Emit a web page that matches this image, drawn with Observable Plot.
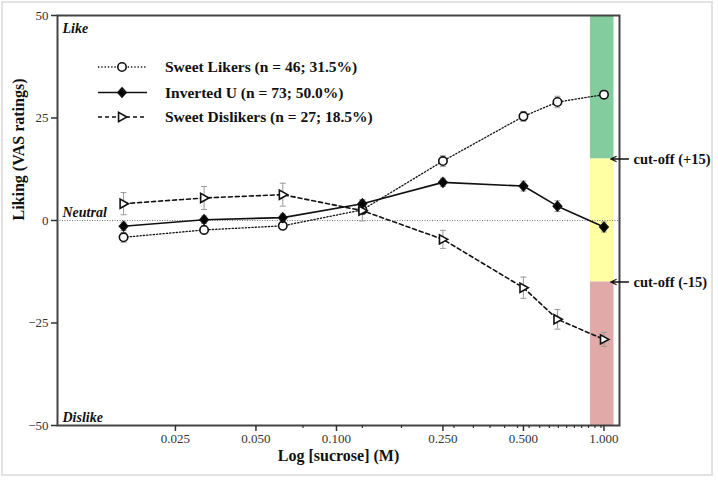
<!DOCTYPE html>
<html><head><meta charset="utf-8">
<script src="https://cdn.jsdelivr.net/npm/d3@7"></script>
<script src="https://cdn.jsdelivr.net/npm/@observablehq/plot@0.6"></script>
<style>
body{margin:0;background:#fff;}
#wrap{position:relative;width:718px;height:483px;overflow:hidden;background:#fff;}
#border{position:absolute;left:1px;top:1px;width:712px;height:475px;border:2px solid #e3e3e3;box-sizing:border-box;}
#chart{position:absolute;left:0;top:0;}
</style></head>
<body><div id="wrap"><div id="border"></div><div id="chart"></div></div>
<script>
// ---- data ----
const concentrations = [0.016, 0.032, 0.063, 0.125, 0.25, 0.5, 0.67, 1.0];
const likersMean     = [-4.1, -2.3, -1.3, 2.6, 14.5, 25.4, 28.9, 30.7];
const likersSem      = [1.2, 1.0, 1.0, 1.1, 1.3, 1.2, 1.4, 1.0];
const invertedMean   = [-1.4, 0.2, 0.7, 4.1, 9.3, 8.4, 3.5, -1.6];
const invertedSem    = [1.0, 0.9, 0.9, 1.0, 1.0, 1.2, 1.3, 1.2];
const dislikersMean  = [4.1, 5.5, 6.3, 2.4, -4.6, -16.4, -24.1, -29.0];
const dislikersSem   = [2.7, 2.8, 2.8, 2.5, 2.2, 2.6, 2.4, 1.7];
const seriesNames    = ["Sweet Likers (n = 46; 31.5%)", "Inverted U (n = 73; 50.0%)", "Sweet Dislikers (n = 27; 18.5%)"];
const xTicks         = [0.025, 0.05, 0.1, 0.25, 0.5, 1.0];
const xMinorTicks    = [0.075, 0.125, 0.175, 0.275, 0.325, 0.375, 0.425, 0.475, 0.525, 0.575, 0.625, 0.675, 0.725, 0.775, 0.825, 0.875, 0.925, 0.975];
const yTicks         = [-50, -25, 0, 25, 50];
const bandLower      = [15, -15, -50];
const bandUpper      = [50, 15, -15];
const bandRange      = [0.89, 1.09];
const cutoffs        = [15, -15];
const cutoffLabels   = ["cut-off (+15)", "cut-off (-15)"];
const zoneLabels     = ["Like", "Neutral", "Dislike"];
const zoneValues     = [50, 0, -50];

// ---- styles ----
const bandColors = ["#82cc9d", "#ffffa3", "#e2a9a9"];
const font = "'Liberation Serif', 'Times New Roman', serif";

const symCircle = {draw(ctx, size){ const r = Math.sqrt(size/Math.PI); ctx.moveTo(r,0); ctx.arc(0,0,r,0,2*Math.PI); ctx.closePath(); }};
const symDiamond = {draw(ctx, size){ const r = Math.sqrt(size/Math.PI)*1.1; ctx.moveTo(0,-r); ctx.lineTo(r*0.9,0); ctx.lineTo(0,r); ctx.lineTo(-r*0.9,0); ctx.closePath(); }};
const symTriRight = {draw(ctx, size){ const r = Math.sqrt(size/Math.PI); ctx.moveTo(r*1.05,0); ctx.lineTo(-r*0.75,-r); ctx.lineTo(-r*0.75,r); ctx.closePath(); }};
const symCap = {draw(ctx, size){ const r = Math.sqrt(size/Math.PI); ctx.moveTo(-r,0); ctx.lineTo(r,0); }};

const series = [
  {name: seriesNames[0], means: likersMean, errs: likersSem, dash: "1.3,2", width: 1.3, symbol: symCircle, fill: "white", r: 4.2},
  {name: seriesNames[1], means: invertedMean, errs: invertedSem, dash: null, width: 1.6, symbol: symDiamond, fill: "black", r: 4.2},
  {name: seriesNames[2], means: dislikersMean, errs: dislikersSem, dash: "4,3", width: 1.6, symbol: symTriRight, fill: "white", r: 4.6}
];
const rowsFor = s => concentrations.map((c, i) => ({c, m: s.means[i], e: s.errs[i]}));
const bands = bandLower.map((lo, i) => ({lo, hi: bandUpper[i], color: bandColors[i]}));

const marks = [
  Plot.rect(bands, {x1: () => bandRange[0], x2: () => bandRange[1], y1: "lo", y2: "hi", fill: "color"}),
  Plot.ruleY([0], {stroke: "#777", strokeWidth: 1, strokeDasharray: "1,1.5"})
];
for (const s of series) {
  const rows = rowsFor(s);
  marks.push(Plot.ruleX(rows, {x: "c", y1: d => d.m - d.e, y2: d => d.m + d.e, stroke: "#999", strokeWidth: 1}));
  const caps = rows.flatMap(d => [{c: d.c, y: d.m - d.e}, {c: d.c, y: d.m + d.e}]);
  marks.push(Plot.dot(caps, {x: "c", y: "y", symbol: symCap, r: 3, stroke: "#999", strokeWidth: 1}));
}
for (const s of series) {
  marks.push(Plot.line(rowsFor(s), {x: "c", y: "m", stroke: "#111", strokeWidth: s.width, strokeDasharray: s.dash || undefined}));
}
for (const s of series) {
  marks.push(Plot.dot(rowsFor(s), {x: "c", y: "m", symbol: s.symbol, r: s.r, fill: s.fill, stroke: "#111", strokeWidth: 1.6}));
}
marks.push(
  Plot.frame({stroke: "#444", strokeWidth: 2}),
  Plot.axisY({ticks: yTicks, tickSize: 6, tickPadding: 3, fontSize: 13, label: null, strokeWidth: 1.5}),
  Plot.axisX({ticks: xTicks, tickFormat: d3.format(".3f"), tickSize: 6, tickPadding: 2, fontSize: 13, label: null, strokeWidth: 1.5}),
  Plot.axisX({ticks: xMinorTicks, tickFormat: () => "", tickSize: 3, label: null, strokeWidth: 1.2}),
  Plot.text(zoneLabels, {y: (d, i) => zoneValues[i], text: d => d, frameAnchor: "left", dx: 5,
    textAnchor: "start", fontStyle: "italic", fontWeight: "bold", fontSize: 14, fill: "#111"}),
  Plot.text(["Liking (VAS ratings)"], {text: d => d, frameAnchor: "left", dx: -39, rotate: -90, fontWeight: "bold", fontSize: 16, fill: "#111"}),
  Plot.text(["Log [sucrose] (M)"], {text: d => d, frameAnchor: "bottom", dy: 35, fontWeight: "bold", fontSize: 16, fill: "#111"}),
  Plot.arrow(cutoffs, {x1: () => 1.235, x2: () => 1.06, y1: d => d, y2: d => d, stroke: "#111", strokeWidth: 1.3, headLength: 7, headAngle: 50}),
  Plot.text(cutoffs, {y: d => d, text: (d, i) => cutoffLabels[i], frameAnchor: "right", dx: 14, textAnchor: "start", fontWeight: "bold", fontSize: 14.5, fill: "#111"})
);

const chart = Plot.plot({
  width: 718, height: 483,
  marginLeft: 57, marginRight: 99, marginTop: 15, marginBottom: 58,
  x: {type: "log", domain: [0.00906, 1.143]},
  y: {domain: [-50, 50]},
  style: {fontFamily: font, background: "transparent", color: "#333", overflow: "visible"},
  marks
});
document.getElementById("chart").appendChild(chart);

// shift zone labels: Like below top, Neutral/Dislike above their lines
d3.select(chart).selectAll("text").each(function(){
  const t = this.textContent;
  if (t === "Like") d3.select(this).attr("dy", "0.95em");
  else if (t === "Neutral" || t === "Dislike") d3.select(this).attr("dy", "-0.6em");
});

// ---- legend ----
const leg = d3.select("#wrap").append("svg").attr("width", 718).attr("height", 483)
  .style("position", "absolute").style("left", 0).style("top", 0).style("pointer-events", "none");
const legY = [67, 92.5, 117];
series.forEach((s, i) => {
  const g = leg.append("g").attr("transform", `translate(0,${legY[i]})`);
  g.append("line").attr("x1", 98).attr("x2", 147).attr("y1", 0).attr("y2", 0)
    .attr("stroke", "#111").attr("stroke-width", s.width).attr("stroke-dasharray", s.dash);
  g.append("path").attr("transform", "translate(122,0)")
    .attr("d", d3.symbol(s.symbol, s.r * s.r * Math.PI)())
    .attr("fill", s.fill).attr("stroke", "#111").attr("stroke-width", 1.6);
  g.append("text").attr("x", 165).attr("y", 5).text(s.name)
    .attr("font-family", font).attr("font-weight", "bold").attr("font-size", 15.5).attr("fill", "#111");
});
</script>
</body></html>
